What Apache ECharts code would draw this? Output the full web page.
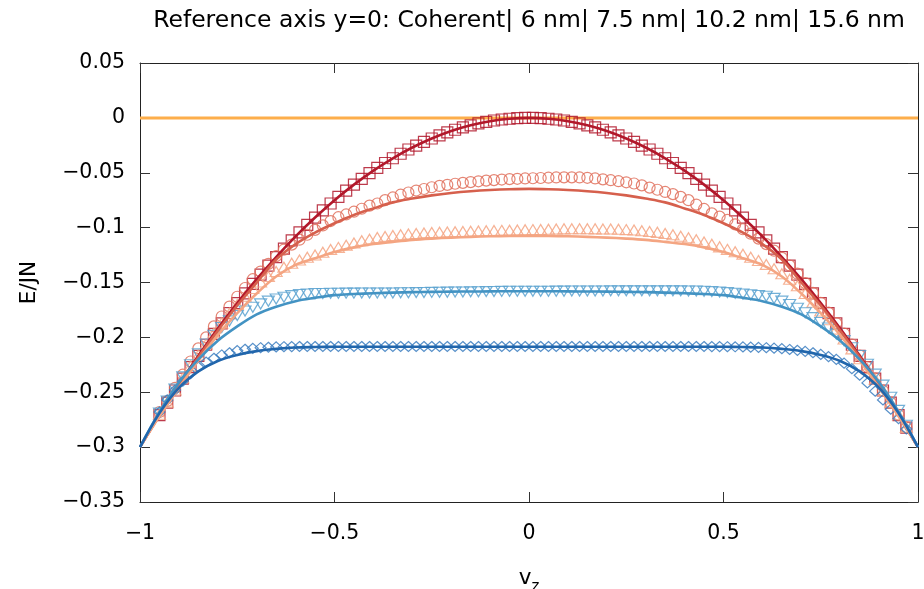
<!DOCTYPE html>
<html><head><meta charset="utf-8">
<script src="https://cdn.jsdelivr.net/npm/echarts@6/dist/echarts.min.js"></script>
<style>html,body{margin:0;padding:0;background:#fff}#c{width:924px;height:589px}</style>
</head><body><div id="c"></div><script>
// ---- data ----
var titleText = 'Reference axis y=0: Coherent| 6 nm| 7.5 nm| 10.2 nm| 15.6 nm';
var seriesNames = ['Coherent', '6 nm', '7.5 nm', '10.2 nm', '15.6 nm'];
var xTicks = [-1, -0.5, 0, 0.5, 1];
var yTicks = [-0.35, -0.3, -0.25, -0.2, -0.15, -0.1, -0.05, 0, 0.05];

// smooth curve sample positions
var lineV = [-1,-0.95,-0.9,-0.85,-0.8,-0.75,-0.7,-0.65,-0.6,-0.55,-0.5,-0.45,-0.4,-0.35,-0.3,-0.25,-0.2,-0.15,-0.1,-0.05,0,
  0.05,0.1,0.15,0.2,0.25,0.3,0.35,0.4,0.45,0.5,0.55,0.6,0.65,0.7,0.75,0.8,0.85,0.9,0.95,1];
var lineCoherent = [-0.3,-0.2708,-0.243,-0.2168,-0.192,-0.1688,-0.147,-0.1268,-0.108,-0.0908,-0.075,-0.0608,-0.048,-0.0368,-0.027,-0.0188,-0.012,-0.0068,-0.003,-0.0008,0,
  -0.0008,-0.003,-0.0068,-0.012,-0.0188,-0.027,-0.0368,-0.048,-0.0608,-0.075,-0.0908,-0.108,-0.1268,-0.147,-0.1688,-0.192,-0.2168,-0.243,-0.2708,-0.3];
var line6nm = [-0.3,-0.271,-0.244,-0.218,-0.194,-0.171,-0.150,-0.129,-0.115,-0.1045,-0.096,-0.0885,-0.0825,-0.077,-0.0735,-0.0706,-0.0684,-0.0668,-0.0657,-0.065,-0.0647,
  -0.065,-0.0657,-0.0668,-0.0684,-0.0706,-0.0735,-0.077,-0.0825,-0.0885,-0.096,-0.1045,-0.115,-0.129,-0.150,-0.171,-0.194,-0.218,-0.244,-0.271,-0.3];
var line7p5nm = [-0.3,-0.272,-0.246,-0.221,-0.198,-0.178,-0.160,-0.1445,-0.134,-0.128,-0.1222,-0.118,-0.115,-0.113,-0.1112,-0.110,-0.1091,-0.1084,-0.1079,-0.1076,-0.1075,
  -0.1076,-0.1079,-0.1084,-0.1091,-0.110,-0.1112,-0.113,-0.115,-0.118,-0.1222,-0.128,-0.134,-0.1445,-0.160,-0.178,-0.198,-0.221,-0.246,-0.272,-0.3];
var line10p2nm = [-0.3,-0.268,-0.241,-0.220,-0.203,-0.190,-0.179,-0.172,-0.167,-0.164,-0.1615,-0.1605,-0.1598,-0.1592,-0.1588,-0.1585,-0.1583,-0.1582,-0.1581,-0.158,-0.158,
  -0.158,-0.1581,-0.1582,-0.1583,-0.1585,-0.1588,-0.1592,-0.1598,-0.1605,-0.1615,-0.164,-0.167,-0.172,-0.179,-0.190,-0.203,-0.220,-0.241,-0.268,-0.3];
var line15p6nm = [-0.3,-0.269,-0.246,-0.231,-0.2215,-0.216,-0.2125,-0.2105,-0.2092,-0.2088,-0.2086,-0.2085,-0.2085,-0.2085,-0.2085,-0.2085,-0.2085,-0.2085,-0.2085,-0.2085,-0.2085,
  -0.2085,-0.2085,-0.2085,-0.2085,-0.2085,-0.2085,-0.2085,-0.2085,-0.2085,-0.2086,-0.2088,-0.2092,-0.2105,-0.2125,-0.216,-0.2215,-0.231,-0.246,-0.269,-0.3];

// marker sample positions
var markV = [-0.95,-0.93,-0.91,-0.89,-0.87,-0.85,-0.83,-0.81,-0.79,-0.77,-0.75,-0.73,-0.71,-0.69,-0.67,-0.65,-0.63,-0.61,-0.59,-0.57,
  -0.55,-0.53,-0.51,-0.49,-0.47,-0.45,-0.43,-0.41,-0.39,-0.37,-0.35,-0.33,-0.31,-0.29,-0.27,-0.25,-0.23,-0.21,-0.19,-0.17,
  -0.15,-0.13,-0.11,-0.09,-0.07,-0.05,-0.03,-0.01,
  0.01,0.03,0.05,0.07,0.09,0.11,0.13,0.15,0.17,0.19,0.21,0.23,0.25,0.27,0.29,0.31,0.33,0.35,0.37,0.39,
  0.41,0.43,0.45,0.47,0.49,0.51,0.53,0.55,0.57,0.59,0.61,0.63,0.65,0.67,0.69,0.71,0.73,0.75,0.77,0.79,
  0.81,0.83,0.85,0.87,0.89,0.91,0.93,0.95,0.97];
var markCoherent = [-0.2708,-0.2595,-0.2484,-0.2376,-0.2271,-0.2168,-0.2067,-0.1968,-0.1872,-0.1779,
  -0.1688,-0.1599,-0.1512,-0.1428,-0.1347,-0.1268,-0.1191,-0.1116,-0.1044,-0.0975,
  -0.0908,-0.0843,-0.0780,-0.0720,-0.0663,-0.0608,-0.0555,-0.0504,-0.0456,-0.0411,
  -0.0368,-0.0327,-0.0288,-0.0252,-0.0219,-0.0188,-0.0159,-0.0132,-0.0108,-0.0087,
  -0.0068,-0.0051,-0.0036,-0.0024,-0.0015,-0.0008,-0.0003,0,
  0,-0.0003,-0.0008,-0.0015,-0.0024,-0.0036,-0.0051,-0.0068,-0.0087,-0.0108,
  -0.0132,-0.0159,-0.0188,-0.0219,-0.0252,-0.0288,-0.0327,-0.0368,-0.0411,-0.0456,
  -0.0504,-0.0555,-0.0608,-0.0663,-0.0720,-0.0780,-0.0843,-0.0908,-0.0975,-0.1044,
  -0.1116,-0.1191,-0.1268,-0.1347,-0.1428,-0.1512,-0.1599,-0.1688,-0.1779,-0.1872,
  -0.1968,-0.2067,-0.2168,-0.2271,-0.2376,-0.2484,-0.2595,-0.2708,-0.2823];
var mark6nm = [-0.268,-0.258,-0.246,-0.234,-0.222,-0.210,-0.200,-0.190,-0.181,-0.172,
  -0.163,-0.155,-0.147,-0.140,-0.133,-0.126,-0.120,-0.1155,-0.111,-0.1065,
  -0.102,-0.098,-0.094,-0.0905,-0.088,-0.0855,-0.0828,-0.080,-0.078,-0.075,
  -0.0725,-0.070,-0.068,-0.0662,-0.0648,-0.0632,-0.062,-0.061,-0.060,-0.0592,
  -0.0585,-0.0578,-0.0572,-0.0567,-0.0562,-0.0558,-0.0555,-0.0552,
  -0.055,-0.0548,-0.0545,-0.0543,-0.0542,-0.0542,-0.0543,-0.0546,-0.0552,-0.056,
  -0.0568,-0.0577,-0.0587,-0.0598,-0.0615,-0.0635,-0.0655,-0.0675,-0.0695,-0.072,
  -0.075,-0.079,-0.083,-0.087,-0.090,-0.093,-0.097,-0.1015,-0.1055,-0.110,
  -0.115,-0.121,-0.1275,-0.1345,-0.142,-0.1505,-0.1595,-0.1685,-0.1775,-0.187,
  -0.1965,-0.2065,-0.2165,-0.227,-0.2375,-0.2485,-0.2595,-0.2705,-0.282];
var mark7p5nm = [-0.270,-0.259,-0.248,-0.237,-0.226,-0.216,-0.206,-0.196,-0.187,-0.178,
  -0.170,-0.1625,-0.1555,-0.1495,-0.1445,-0.140,-0.136,-0.1325,-0.1295,-0.127,
  -0.125,-0.1225,-0.120,-0.118,-0.116,-0.114,-0.112,-0.1105,-0.109,-0.108,
  -0.1072,-0.1065,-0.1058,-0.1053,-0.1048,-0.1045,-0.1042,-0.104,-0.1038,-0.1035,
  -0.1033,-0.1031,-0.1029,-0.1027,-0.1025,-0.1023,-0.1021,-0.102,
  -0.1018,-0.1017,-0.1015,-0.1013,-0.1011,-0.101,-0.101,-0.101,-0.1011,-0.1012,
  -0.1013,-0.1015,-0.1018,-0.1022,-0.1028,-0.1035,-0.1043,-0.1053,-0.1065,-0.1078,
  -0.1093,-0.111,-0.113,-0.1152,-0.1175,-0.1198,-0.122,-0.1243,-0.127,-0.130,
  -0.1335,-0.1375,-0.142,-0.147,-0.153,-0.160,-0.168,-0.176,-0.184,-0.1925,
  -0.2015,-0.2105,-0.2195,-0.2285,-0.238,-0.2485,-0.2595,-0.2705,-0.282];
var mark10p2nm = [-0.269,-0.258,-0.247,-0.236,-0.225,-0.215,-0.206,-0.198,-0.191,-0.185,
  -0.180,-0.176,-0.1725,-0.1695,-0.167,-0.165,-0.1635,-0.162,-0.161,-0.1605,
  -0.160,-0.160,-0.1598,-0.1598,-0.1597,-0.1597,-0.1596,-0.1596,-0.1595,-0.1595,
  -0.1595,-0.1594,-0.1593,-0.1592,-0.1591,-0.159,-0.1589,-0.1588,-0.1587,-0.1586,
  -0.1585,-0.1584,-0.1583,-0.1582,-0.1581,-0.158,-0.158,-0.158,
  -0.158,-0.158,-0.158,-0.1579,-0.1579,-0.1578,-0.1578,-0.1577,-0.1577,-0.1577,
  -0.1576,-0.1576,-0.1576,-0.1576,-0.1576,-0.1576,-0.1576,-0.1576,-0.1576,-0.1576,
  -0.1577,-0.1578,-0.158,-0.1583,-0.1587,-0.1592,-0.1598,-0.1605,-0.1612,-0.1618,
  -0.1625,-0.1645,-0.167,-0.170,-0.1735,-0.1775,-0.182,-0.1865,-0.1915,-0.197,
  -0.203,-0.2095,-0.2165,-0.2245,-0.2335,-0.2435,-0.2545,-0.2665,-0.280];
var mark15p6nm = [-0.268,-0.257,-0.248,-0.240,-0.233,-0.227,-0.2225,-0.219,-0.216,-0.214,
  -0.212,-0.2108,-0.210,-0.2094,-0.209,-0.2087,-0.2085,-0.2084,-0.2083,-0.2083,
  -0.2083,-0.2083,-0.2083,-0.2083,-0.2083,-0.2083,-0.2083,-0.2083,-0.2083,-0.2083,
  -0.2083,-0.2083,-0.2083,-0.2083,-0.2083,-0.2083,-0.2083,-0.2083,-0.2083,-0.2083,
  -0.2083,-0.2083,-0.2083,-0.2083,-0.2083,-0.2083,-0.2083,-0.2083,
  -0.2083,-0.2083,-0.2083,-0.2083,-0.2083,-0.2083,-0.2083,-0.2083,-0.2083,-0.2083,
  -0.2083,-0.2083,-0.2083,-0.2083,-0.2083,-0.2083,-0.2083,-0.2083,-0.2083,-0.2083,
  -0.2083,-0.2083,-0.2083,-0.2084,-0.2084,-0.2085,-0.2086,-0.2087,-0.2089,-0.2091,
  -0.2094,-0.2098,-0.2103,-0.211,-0.2118,-0.2128,-0.214,-0.2155,-0.2175,-0.220,
  -0.2235,-0.2285,-0.2345,-0.2415,-0.249,-0.257,-0.2655,-0.274,-0.2835];
var refLineX = [-1, 1];
var refLineY = [0, 0];

// ---- build ----
function pairs(xs, ys){ return xs.map(function(x,i){ return [x, ys[i]]; }); }
var lineColors = ['#b2182b','#d6604d','#f4a582','#4393c3','#2166ac'];
var markColors = ['#b2182b','#e0705c','#f4a582','#5aa2d0','#3a7cc0'];
var symbols = ['rect','circle','triangle','triangle','diamond'];
var symRot = [0,0,0,180,0];
var symSizes = [[11,11],[11,11],[12,10],[12,10],[11,10]];
var lineData = [lineCoherent, line6nm, line7p5nm, line10p2nm, line15p6nm];
var markData = [markCoherent, mark6nm, mark7p5nm, mark10p2nm, mark15p6nm];
var FONT = 'DejaVu Sans';
function fmt(v){ var r = Math.round(v*100)/100; return r < 0 ? '\u2212' + String(-r) : String(r); }

var series = [{
  type:'line', data: pairs(refLineX, refLineY), showSymbol:false, silent:true,
  lineStyle:{color:'#fdae4b', width:3}, z:1
}];
for (var i=0;i<5;i++){
  series.push({
    name: seriesNames[i] + ' (sim)', type:'scatter', data: pairs(markV, markData[i]),
    symbol: symbols[i], symbolSize: symSizes[i], symbolRotate: symRot[i],
    itemStyle:{color:'rgba(0,0,0,0)', borderColor: markColors[i], borderWidth:1.2, opacity:0.85},
    z:2, silent:true
  });
}
for (var j=0;j<5;j++){
  series.push({
    name: seriesNames[j], type:'line', data: pairs(lineV, lineData[j]), showSymbol:false, smooth:0.35,
    lineStyle:{color: lineColors[j], width:2.6}, z:3, silent:true
  });
}

var axisLineStyle = {color:'#222', width:1};
var tickStyle = {color:'#333', width:1};
var chart = echarts.init(document.getElementById('c'), null, {renderer:'canvas'});
chart.setOption({
  animation:false,
  backgroundColor:'#fff',
  title:{ text:titleText, left:524, textAlign:'center', top:4,
    textStyle:{fontFamily:FONT, fontSize:23.5, fontWeight:'normal', color:'#000'} },
  grid:{left:140, right:6, top:63, bottom:87, show:false, containLabel:false, outerBoundsMode:'none'},
  xAxis:[{
    type:'value', min:xTicks[0], max:xTicks[xTicks.length-1], interval:0.5, position:'bottom',
    axisLine:{onZero:false, lineStyle:axisLineStyle},
    axisTick:{inside:true, length:10, lineStyle:tickStyle},
    axisLabel:{margin:21, fontFamily:FONT, fontSize:20.5, color:'#000', formatter:fmt},
    splitLine:{show:false},
    name:'{a|v}{b|z}', nameLocation:'middle', nameGap:59,
    nameTextStyle:{rich:{a:{fontFamily:FONT, fontSize:21.5, color:'#000', lineHeight:28, verticalAlign:'bottom'},
                         b:{fontFamily:FONT, fontSize:15, color:'#000', lineHeight:28, verticalAlign:'bottom', padding:[0,0,-6,0]}}}
  },{
    type:'value', min:xTicks[0], max:xTicks[xTicks.length-1], interval:0.5, position:'top',
    axisLine:{onZero:false, lineStyle:axisLineStyle},
    axisTick:{inside:true, length:10, lineStyle:tickStyle},
    axisLabel:{show:false}, splitLine:{show:false}
  }],
  yAxis:[{
    type:'value', min:yTicks[0], max:yTicks[yTicks.length-1], interval:0.05, position:'left',
    axisLine:{onZero:false, show:true, lineStyle:axisLineStyle},
    axisTick:{show:true, inside:true, length:10, lineStyle:tickStyle},
    axisLabel:{margin:15, fontFamily:FONT, fontSize:20.5, color:'#000', formatter:fmt},
    splitLine:{show:false},
    name:'E/JN', nameLocation:'middle', nameGap:100, nameRotate:90,
    nameTextStyle:{fontFamily:FONT, fontSize:21.5, color:'#000'}
  },{
    type:'value', min:yTicks[0], max:yTicks[yTicks.length-1], interval:0.05, position:'right',
    axisLine:{onZero:false, show:true, lineStyle:axisLineStyle},
    axisTick:{show:true, inside:true, length:10, lineStyle:tickStyle},
    axisLabel:{show:false}, splitLine:{show:false}
  }],
  series: series
});
</script></body></html>
